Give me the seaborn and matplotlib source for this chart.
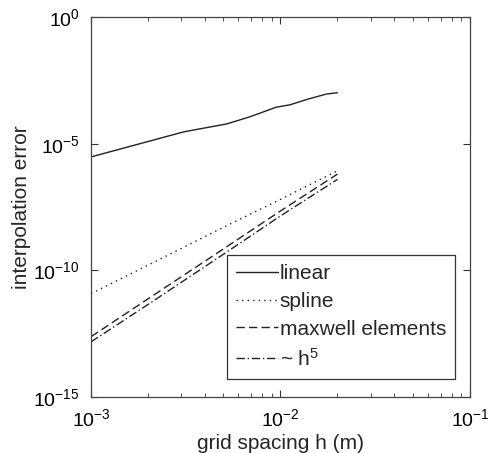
import numpy as np
import pandas as pd
import matplotlib
matplotlib.use("Agg")
import matplotlib.pyplot as plt
import seaborn as sns

# values
h_linear = [1e-3, 3.1e-3, 5.2e-3, 6.9e-3, 9.5e-3, 1.12e-2, 1.4e-2, 1.75e-2, 2.0e-2]
err_linear = [3.0e-6, 2.95e-5, 6.0e-5, 1.15e-4, 2.75e-4, 3.4e-4, 5.75e-4, 9.1e-4, 1.02e-3]

h_grid = [1e-3, 2e-3, 5e-3, 1e-2, 2e-2]
err_spline = [1.2e-11, 1.6e-10, 5.0e-9, 6.3e-8, 8.5e-7]
err_maxwell = [2.4e-13, 7.5e-12, 7.0e-10, 2.2e-8, 6.3e-7]
err_h5 = [1.5e-13, 4.5e-12, 4.3e-10, 1.4e-8, 3.9e-7]

labels = ["linear", "spline", "maxwell elements", "~ h$^5$"]

sns.set_style("ticks")
plt.rcParams["font.family"] = ["Liberation Sans", "DejaVu Sans"]
plt.rcParams["mathtext.fontset"] = "custom"
plt.rcParams["mathtext.rm"] = "Liberation Sans"
plt.rcParams["mathtext.it"] = "Liberation Sans"

fig = plt.figure(figsize=(4.92, 4.53), dpi=100)
ax = fig.add_axes([0.185, 0.1236, 0.77, 0.8389])

c = "#222222"
sns.lineplot(x=h_linear, y=err_linear, ax=ax, color=c, lw=1.0, label=labels[0])
sns.lineplot(x=h_grid, y=err_spline, ax=ax, color=c, lw=1.0, label=labels[1])
sns.lineplot(x=h_grid, y=err_maxwell, ax=ax, color=c, lw=1.0, label=labels[2])
sns.lineplot(x=h_grid, y=err_h5, ax=ax, color=c, lw=1.0, label=labels[3])
lines = ax.get_lines()
lines[1].set_linestyle((0, (1, 3)))
lines[2].set_linestyle((0, (6, 3)))
lines[3].set_linestyle((0, (6, 2, 1, 2)))

ax.set_xscale("log")
ax.set_yscale("log")
ax.set_xlim(1e-3, 1e-1)
ax.set_ylim(1e-15, 1e0)
ax.set_yticks([1e-15, 1e-10, 1e-5, 1e0])
ax.yaxis.set_minor_locator(matplotlib.ticker.NullLocator())
ax.set_xticks([1e-3, 1e-2, 1e-1])

ax.tick_params(which="both", direction="in", top=True, right=True,
               colors="#333333", labelcolor="black", labelsize=14)
ax.tick_params(which="major", length=5, width=0.8, pad=8)
ax.tick_params(which="minor", length=3, width=0.6)
for s in ax.spines.values():
    s.set_color("#444444")
    s.set_linewidth(0.9)

ax.set_xlabel("grid spacing h (m)", fontsize=15, labelpad=3)
ax.set_ylabel("interpolation error", fontsize=15, labelpad=2)

leg = ax.legend(loc="lower right", bbox_to_anchor=(0.962, 0.048), fontsize=15,
                frameon=True, fancybox=False, framealpha=1, edgecolor="#333333",
                handlelength=2.0, handletextpad=0.1, borderpad=0.45,
                labelspacing=0.42, borderaxespad=0)
leg.get_frame().set_linewidth(0.9)

fig.savefig("out.png", dpi=100)
